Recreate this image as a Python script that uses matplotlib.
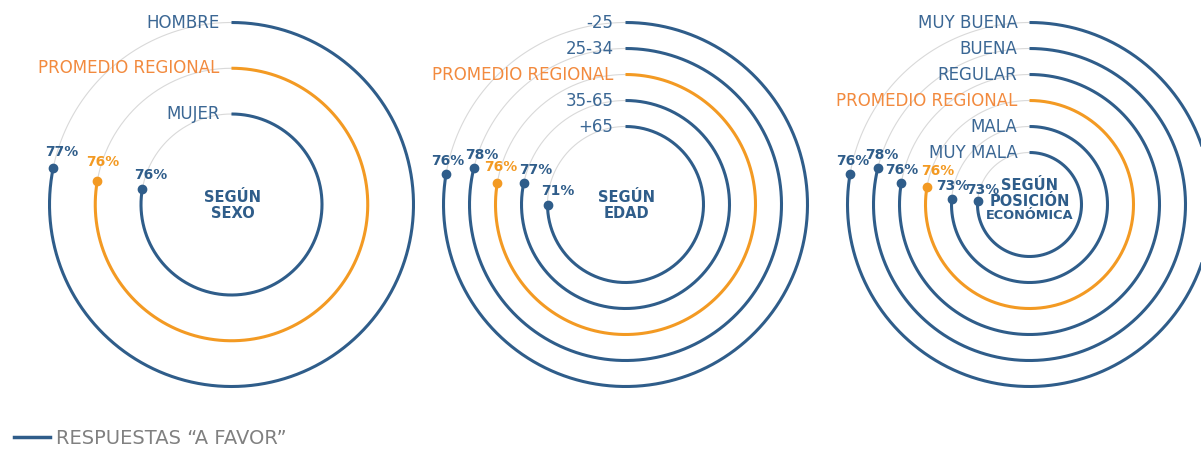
import numpy as np
import matplotlib
matplotlib.use("Agg")
import matplotlib.pyplot as plt

# data
sexo_labels = ["HOMBRE", "PROMEDIO REGIONAL", "MUJER"]
sexo_values = [77, 76, 76]

edad_labels = ["-25", "25-34", "PROMEDIO REGIONAL", "35-65", "+65"]
edad_values = [76, 78, 76, 77, 71]

posicion_labels = ["MUY BUENA", "BUENA", "REGULAR", "PROMEDIO REGIONAL", "MALA", "MUY MALA"]
posicion_values = [76, 78, 76, 76, 73, 73]

titles = [["SEGÚN", "SEXO"], ["SEGÚN", "EDAD"], ["SEGÚN", "POSICIÓN", "ECONÓMICA"]]
legend_text = "RESPUESTAS “A FAVOR”"

# layout: hand placed nudges of the % labels (pixels from the dot)
sexo_nudge = [(8, -16), (6, -19), (8, -14)]
edad_nudge = [(2, -13), (8, -13), (3, -16), (12, -13), (10, -14)]
posicion_nudge = [(3, -13), (4, -13), (0, -13), (11, -16), (1, -13), (5, -11)]

BLUE = "#2f5d8a"
BLUE_TXT = "#3b6794"
ORANGE = "#f39a23"
ORANGE_TXT = "#f28a3e"
TRACK = "#d9d9d9"

plt.rcParams['font.family'] = ['DejaVu Sans']


def angle_of(pct):
    # angular scale used by the original design (fraction of the full turn)
    return 2 * np.pi * (0.777 + 0.0055 * (pct - 76))


def ring_chart(ax, cx, cy, labels, values, nudges, title, r_out, step):
    for i, (lab, val) in enumerate(zip(labels, values)):
        r = r_out - i * step
        regional = lab == "PROMEDIO REGIONAL"
        col = ORANGE if regional else BLUE
        tcol = ORANGE_TXT if regional else BLUE_TXT
        end = angle_of(val)

        t = np.linspace(0, 2 * np.pi, 400)
        ax.plot(cx + r * np.sin(t), cy - r * np.cos(t), color=TRACK, lw=0.8, zorder=1)
        t = np.linspace(0, end, 400)
        ax.plot(cx + r * np.sin(t), cy - r * np.cos(t), color=col, lw=2.2,
                solid_capstyle='butt', zorder=2)
        dx, dy = cx + r * np.sin(end), cy - r * np.cos(end)
        ax.plot(dx, dy, 'o', color=col, ms=6, zorder=3)

        ax.text(cx - 12, cy - r, lab, ha='right', va='center', color=tcol,
                fontsize=12, zorder=4)
        nx, ny = nudges[i]
        ax.text(dx + nx, dy + ny, f"{val}%", ha='center', va='center', color=col,
                fontsize=10, fontweight='bold', zorder=4)

    if len(title) == 2:
        ax.text(cx + 1, cy - 7, title[0], ha='center', va='center', color=BLUE,
                fontsize=10.5, fontweight='bold')
        ax.text(cx + 1, cy + 9, title[1], ha='center', va='center', color=BLUE,
                fontsize=10.5, fontweight='bold')
    else:
        ax.text(cx, cy - 19, title[0], ha='center', va='center', color=BLUE,
                fontsize=10.5, fontweight='bold')
        ax.text(cx, cy - 3, title[1], ha='center', va='center', color=BLUE,
                fontsize=10.5, fontweight='bold')
        ax.text(cx, cy + 11, title[2], ha='center', va='center', color=BLUE,
                fontsize=9.3, fontweight='bold')


fig = plt.figure(figsize=(12.01, 4.5), dpi=100)
ax = fig.add_axes([0, 0, 1, 1])
ax.set_xlim(0, 1201)
ax.set_ylim(450, 0)
ax.axis('off')

ring_chart(ax, 231.5, 204.5, sexo_labels, sexo_values, sexo_nudge, titles[0], 182, 45.75)
ring_chart(ax, 625.5, 204.5, edad_labels, edad_values, edad_nudge, titles[1], 182, 26)
ring_chart(ax, 1029.5, 204.5, posicion_labels, posicion_values, posicion_nudge, titles[2], 182, 26)

# legend
ax.plot([14, 50], [437, 437], color=BLUE, lw=2.5)
ax.text(56, 438, legend_text, ha='left', va='center', color="#808080", fontsize=14)

fig.savefig("out.png", dpi=100)
